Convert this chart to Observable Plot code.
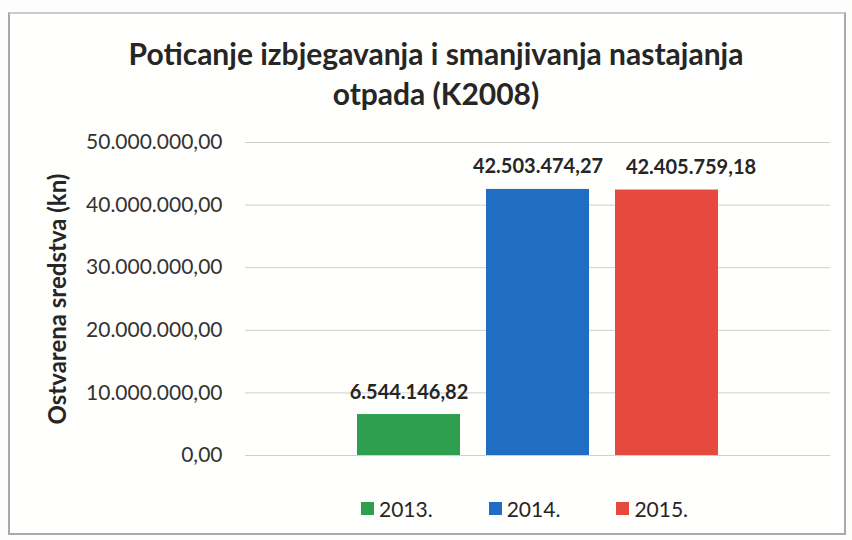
<!DOCTYPE html>
<html>
<head>
<meta charset="utf-8">
<script src="https://cdn.jsdelivr.net/npm/d3@7"></script>
<script src="https://cdn.jsdelivr.net/npm/@observablehq/plot@0.6"></script>
<style>
  html, body { margin: 0; padding: 0; background: #fdfdfb; }
  #wrap { position: relative; width: 852px; height: 540px; font-family: Lato, "Open Sans", sans-serif; color: #262626; }
  #frame { position: absolute; left: 8px; top: 12px; width: 834px; height: 519px; border: 2px solid #a4aab0; border-top-color: #c8ccd0; background: #fffffd; }
  #title { position: absolute; left: 0; width: 872px; top: 33px; text-align: center; font-weight: bold; font-size: 30px; line-height: 40px; color: #262626; z-index: 2; }
  #chart { position: absolute; left: 0; top: 110px; }
  #legend { position: absolute; top: 496px; left: 361px; display: flex; gap: 56px; font-size: 21px; color: #262626; }
  .item { display: flex; align-items: center; }
  .sw { width: 13px; height: 13px; margin-right: 5px; display: inline-block; }
</style>
</head>
<body>
<div id="wrap">
  <div id="frame"></div>
  <div id="chart"></div>
  <div id="title">Poticanje izbjegavanja i smanjivanja nastajanja<br>otpada (K2008)</div>
  <div id="legend"></div>
</div>
<script>
const years = ["2013.", "2014.", "2015."];
const values = [6544146.82, 42503474.27, 42405759.18];
const colors = ["#2e9f4f", "#1f6ec4", "#e6493d"];
const yTicks = [0, 10000000, 20000000, 30000000, 40000000, 50000000];
const yLabel = "Ostvarena sredstva (kn)";

const hr = d3.formatLocale({decimal: ",", thousands: ".", grouping: [3], currency: ["", ""]});
const fmt = hr.format(",.2f");

const data = years.map((y, i) => ({year: y, value: values[i]}));
const labelStyle = {x: "year", y: "value", text: d => fmt(d.value), dy: -16, lineAnchor: "bottom", fontWeight: "bold", fontSize: 20, fill: "#262626"};

const plot = Plot.plot({
  width: 852,
  height: 360,
  marginLeft: 245,
  marginRight: 22,
  marginTop: 32,
  marginBottom: 15,
  style: {fontSize: "21px", fontFamily: "Lato, 'Open Sans', sans-serif", color: "#333", background: "transparent"},
  x: {type: "band", domain: years, paddingInner: 0.2, paddingOuter: 0.86, axis: null},
  y: {domain: [0, 50000000], ticks: yTicks, tickFormat: fmt, tickSize: 0, tickPadding: 23, label: null},
  color: {domain: years, range: colors},
  marks: [
    Plot.ruleY(yTicks, {stroke: "#cfcfcf", strokeWidth: 1}),
    Plot.barY(data, {x: "year", y: "value", fill: "year"}),
    Plot.text(data.slice(0, 2), labelStyle),
    Plot.text(data.slice(2), {...labelStyle, dx: 24}),
    Plot.text([yLabel], {frameAnchor: "left", textAnchor: "middle", dx: -187, rotate: -90, fontWeight: "bold", fontSize: 24, fill: "#262626"})
  ]
});
document.getElementById("chart").appendChild(plot);

const legend = document.getElementById("legend");
years.forEach((y, i) => {
  const it = document.createElement("div");
  it.className = "item";
  it.innerHTML = `<span class="sw" style="background:${colors[i]}"></span><span>${y}</span>`;
  legend.appendChild(it);
});
</script>
</body>
</html>
